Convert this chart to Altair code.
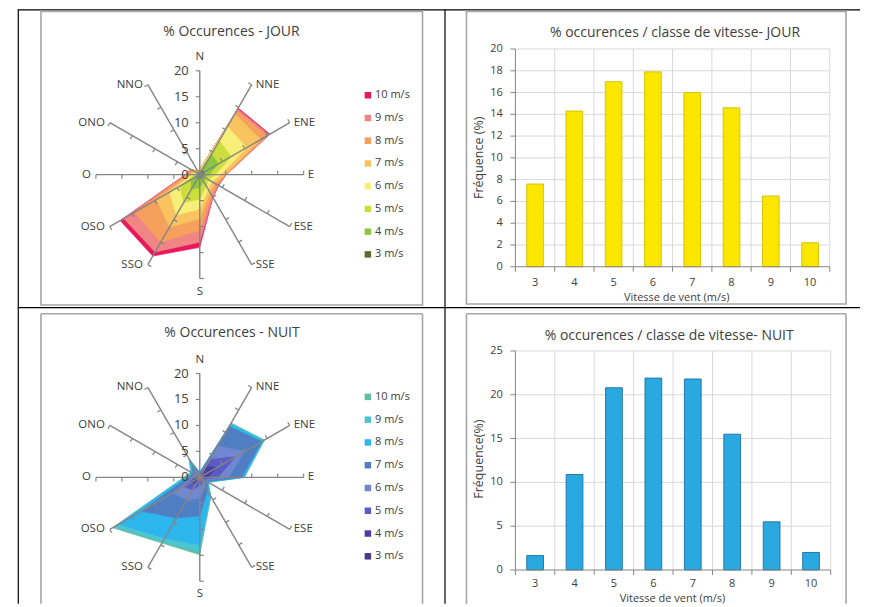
import altair as alt
import pandas as pd

# ---------------- data ----------------
DIRECTIONS = ["N", "NNE", "ENE", "E", "ESE", "SSE", "S", "SSO", "OSO", "O", "ONO", "NNO"]
SPEED_LABELS = ["3 m/s", "4 m/s", "5 m/s", "6 m/s", "7 m/s", "8 m/s", "9 m/s", "10 m/s"]
SPEED_CLASSES = [3, 4, 5, 6, 7, 8, 9, 10]

# cumulative occurrence (%) per direction, JOUR (<= speed class)
JOUR_3 = [0.5, 1.0, 1.0, 0.8, 0.6, 0.7, 0.7, 0.8, 0.6, 0.3, 0.3, 0.2]
JOUR_4 = [0.6, 4.5, 4.2, 1.8, 1.2, 1.5, 2.5, 3.2, 2.0, 0.6, 0.5, 0.3]
JOUR_5 = [0.7, 7.5, 7.0, 3.0, 1.9, 2.5, 4.7, 6.2, 4.4, 1.0, 0.7, 0.4]
JOUR_6 = [0.8, 10.7, 10.4, 4.0, 2.6, 3.2, 6.6, 9.0, 6.7, 1.4, 1.0, 0.5]
JOUR_7 = [0.9, 13.5, 13.5, 4.8, 3.4, 4.0, 8.5, 11.7, 9.6, 1.9, 1.4, 0.6]
JOUR_8 = [1.0, 14.2, 15.0, 5.0, 3.9, 4.7, 10.8, 15.0, 14.5, 2.5, 2.0, 0.8]
JOUR_9 = [1.0, 14.6, 15.4, 5.1, 4.1, 5.0, 13.0, 17.2, 16.9, 2.7, 2.1, 0.8]
JOUR_10 = [1.0, 14.8, 15.6, 5.1, 4.2, 5.1, 14.0, 18.1, 17.7, 2.8, 2.1, 0.8]

# cumulative occurrence (%) per direction, NUIT
NUIT_3 = [0.1, 0.3, 0.3, 0.2, 0.1, 0.1, 0.1, 0.1, 0.1, 0.1, 0.1, 0.1]
NUIT_4 = [0.3, 2.5, 3.8, 1.5, 0.4, 0.5, 0.6, 1.2, 2.0, 0.5, 0.3, 0.4]
NUIT_5 = [0.5, 4.0, 8.0, 3.5, 0.8, 1.2, 1.5, 2.8, 3.5, 1.0, 0.6, 0.9]
NUIT_6 = [0.7, 7.0, 10.0, 5.5, 1.2, 2.0, 4.0, 5.0, 6.0, 1.5, 1.0, 1.8]
NUIT_7 = [0.9, 11.3, 13.8, 8.0, 1.6, 3.0, 7.4, 9.0, 13.0, 2.3, 1.5, 2.8]
NUIT_8 = [1.0, 11.8, 14.1, 8.5, 1.8, 4.0, 13.0, 13.5, 18.0, 2.8, 1.8, 3.8]
NUIT_9 = [1.0, 12.0, 14.3, 8.5, 1.9, 4.2, 14.4, 14.3, 19.0, 3.0, 1.9, 4.1]
NUIT_10 = [1.0, 12.1, 14.4, 8.6, 1.9, 4.3, 14.9, 14.6, 19.4, 3.1, 2.0, 4.2]

JOUR_FREQ = [7.6, 14.3, 17.0, 17.9, 16.0, 14.6, 6.5, 2.2]
NUIT_FREQ = [1.65, 10.9, 20.8, 21.9, 21.8, 15.5, 5.5, 2.0]

RADAR_TICKS = [0, 5, 10, 15, 20]
JOUR_YTICKS = [0, 2, 4, 6, 8, 10, 12, 14, 16, 18, 20]
NUIT_YTICKS = [0, 5, 10, 15, 20, 25]

# ---------------- styles ----------------
JOUR_COLORS = ["#5A6B2E", "#8DC63F", "#CBDE3C", "#F8EF78", "#F9C460", "#F5A05C", "#F08585", "#E9175B"]
NUIT_COLORS = ["#48398C", "#4B3EA2", "#5A5CC4", "#7088D1", "#4F7FC2", "#2DB5EE", "#4CC4D2", "#5FBE9F"]
FONT = "Open Sans"
TEXT = "#404040"
FRAME = "#a6a6a6"
GRID = "#d9d9d9"
AXIS = "#868686"
SPOKE = "#858585"

ONE = pd.DataFrame({"k": [0]})


def vrule(x, y1, y2, color, w):
    return alt.Chart(ONE).mark_rule(color=color, strokeWidth=w).encode(
        x=alt.value(x), y=alt.value(y1), y2=alt.value(y2))


def hrule(y, x1, x2, color, w):
    return alt.Chart(ONE).mark_rule(color=color, strokeWidth=w).encode(
        y=alt.value(y), x=alt.value(x1), x2=alt.value(x2))


def label(text, x, y, size, **kw):
    return alt.Chart(ONE).mark_text(text=text, fontSize=size, color=TEXT, font=FONT, **kw).encode(
        x=alt.value(x), y=alt.value(y))


def frame(x1, x2, y1, y2, H):
    if y2 is not None:
        return [alt.Chart(ONE).mark_rect(fillOpacity=0, stroke=FRAME, strokeWidth=1.6).encode(
            x=alt.value(x1), x2=alt.value(x2), y=alt.value(y1), y2=alt.value(y2))]
    return [hrule(y1, x1, x2, FRAME, 1.6), vrule(x1, y1, H, FRAME, 1.6), vrule(x2, y1, H, FRAME, 1.6)]


def radar_panel(cums, colors, title, W, H, cx, cy, R, frame_y1, frame_y2, title_xy,
                leg_y0, leg_step):
    k = R / 20.0
    XS = alt.Scale(domain=[-20, 20], range=[cx - R, cx + R], nice=False, zero=False)
    YS = alt.Scale(domain=[-20, 20], range=[cy + R, cy - R], nice=False, zero=False)

    def X(f):
        return alt.X(f, type="quantitative", scale=XS, axis=None)

    def Y(f):
        return alt.Y(f, type="quantitative", scale=YS, axis=None)

    layers = []
    # table lines
    layers.append(vrule(10.3, 0, H, "#000000", 1.2))
    layers.append(hrule(0.6, 10.3, W, "#000000", 1.2))
    layers += frame(33, 415, frame_y1, frame_y2, H)
    layers.append(label(title, title_xy[0], title_xy[1], 14, align="center", baseline="middle"))

    rows = []
    for lab, vals in zip(SPEED_LABELS, cums):
        for i, (d, v) in enumerate(zip(DIRECTIONS, vals)):
            rows.append({"speed": lab, "dir": d, "idx": i, "val": v})
    poly = pd.DataFrame(rows)
    for lab, col in list(zip(SPEED_LABELS, colors))[::-1]:
        layers.append(
            alt.Chart(poly).transform_filter(alt.datum.speed == lab).transform_calculate(
                px="datum.val*sin(datum.idx*PI/6)", py="datum.val*cos(datum.idx*PI/6)"
            ).mark_line(interpolate="linear-closed", fill=col, stroke=col, strokeWidth=0.6).encode(
                x=X("px"), y=Y("py"), order=alt.Order("idx:Q"))
        )

    dirs = pd.DataFrame({"dir": DIRECTIONS, "idx": list(range(len(DIRECTIONS)))})
    spokes = alt.Chart(dirs).transform_calculate(
        z="0", ex="20*sin(datum.idx*PI/6)", ey="20*cos(datum.idx*PI/6)")
    layers.append(spokes.mark_rule(color=SPOKE, strokeWidth=1.4).encode(
        x=X("z"), y=Y("z"), x2=alt.X2("ex"), y2=alt.Y2("ey")))

    L = 4.0 / k
    trows = []
    for i, d in enumerate(DIRECTIONS):
        for r in RADAR_TICKS[1:]:
            trows.append({"idx": i, "r": r})
    ticks = pd.DataFrame(trows)
    layers.append(
        alt.Chart(ticks).transform_calculate(
            bx="datum.r*sin(datum.idx*PI/6)", by="datum.r*cos(datum.idx*PI/6)",
            tx=f"datum.r*sin(datum.idx*PI/6) - {L}*cos(datum.idx*PI/6)",
            ty=f"datum.r*cos(datum.idx*PI/6) + {L}*sin(datum.idx*PI/6)",
        ).mark_rule(color=SPOKE, strokeWidth=1.2).encode(
            x=X("bx"), y=Y("by"), x2=alt.X2("tx"), y2=alt.Y2("ty"))
    )

    groups = [
        ("datum.idx >= 1 && datum.idx <= 5", dict(align="left", baseline="middle", dx=4)),
        ("datum.idx >= 7", dict(align="right", baseline="middle", dx=-5)),
        ("datum.idx == 0", dict(align="center", baseline="middle", dy=-14)),
        ("datum.idx == 6", dict(align="center", baseline="middle", dy=13)),
    ]
    for cond, kw in groups:
        layers.append(
            spokes.transform_filter(cond).mark_text(fontSize=11.5, color=TEXT, font=FONT, **kw).encode(
                x=X("ex"), y=Y("ey"), text="dir:N")
        )

    nums = pd.DataFrame({"r": RADAR_TICKS})
    layers.append(
        alt.Chart(nums).transform_calculate(z="0").mark_text(
            fontSize=13, color=TEXT, font=FONT, align="right", baseline="middle", dx=-11).encode(
            x=X("z"), y=Y("r"), text="r:Q")
    )

    leg = pd.DataFrame({"label": SPEED_LABELS[::-1], "rank": list(range(len(SPEED_LABELS)))})
    lsq = (360.3 - cx) / k
    ltx = (367.5 - cx) / k
    legbase = alt.Chart(leg).transform_calculate(
        ly=f"({cy} - ({leg_y0} + datum.rank*{leg_step}))/{k}", lx=f"{lsq}", lt=f"{ltx}")
    for lab, col in zip(SPEED_LABELS, colors):
        layers.append(legbase.transform_filter(alt.datum.label == lab).mark_square(
            size=42, color=col, opacity=1).encode(x=X("lx"), y=Y("ly")))
    layers.append(legbase.mark_text(fontSize=11, color=TEXT, font=FONT, align="left",
                                    baseline="middle").encode(x=X("lt"), y=Y("ly"), text="label:N"))

    return alt.layer(*layers).properties(width=W, height=H)


def bar_panel(freq, yticks, ymax, fill, stroke, title, ytitle, W, H, x0, x1, y0, y1,
              frame_y1, frame_y2, title_xy, xlab_dy, xtitle_xy, ytitle_xy):
    lo = SPEED_CLASSES[0] - 0.5
    hi = SPEED_CLASSES[-1] + 0.5
    XS = alt.Scale(domain=[lo, hi], range=[x0, x1], nice=False, zero=False)
    YS = alt.Scale(domain=[0, ymax], range=[y0, y1], nice=False, zero=False)

    def X(f):
        return alt.X(f, type="quantitative", scale=XS, axis=None)

    def Y(f):
        return alt.Y(f, type="quantitative", scale=YS, axis=None)

    layers = []
    layers.append(vrule(0.5, 0, H, "#000000", 1.2))
    layers.append(hrule(0.6, 0, W, "#000000", 1.2))
    layers += frame(22, 402, frame_y1, frame_y2, H)
    layers.append(label(title, title_xy[0], title_xy[1], 14, align="center", baseline="middle"))

    yt = alt.Chart(pd.DataFrame({"t": yticks})).transform_calculate(xl=f"{lo}", xr=f"{hi}")
    xb = alt.Chart(pd.DataFrame({"s": SPEED_CLASSES})).transform_calculate(
        b="datum.s + 0.5", z="0", top=f"{ymax}")

    layers.append(yt.transform_filter("datum.t > 0").mark_rule(color=GRID, strokeWidth=1).encode(
        x=X("xl"), x2=alt.X2("xr"), y=Y("t")))
    layers.append(xb.mark_rule(color=GRID, strokeWidth=1).encode(
        x=X("b"), y=Y("z"), y2=alt.Y2("top")))

    bars = pd.DataFrame({"s": SPEED_CLASSES, "f": freq})
    layers.append(
        alt.Chart(bars).transform_calculate(l="datum.s - 0.2125", r="datum.s + 0.2125", z="0")
        .mark_rect(fill=fill, stroke=stroke, strokeWidth=0.9)
        .encode(x=X("l"), x2=alt.X2("r"), y=Y("f"), y2=alt.Y2("z"))
    )

    # axis lines and ticks
    layers.append(alt.Chart(ONE).transform_calculate(xl=f"{lo}", z="0", top=f"{ymax}").mark_rule(
        color=AXIS, strokeWidth=1).encode(x=X("xl"), y=Y("z"), y2=alt.Y2("top")))
    layers.append(alt.Chart(ONE).transform_calculate(xl=f"{lo}", xr=f"{hi}", z="0").mark_rule(
        color=AXIS, strokeWidth=1).encode(x=X("xl"), x2=alt.X2("xr"), y=Y("z")))
    layers.append(yt.mark_rule(color=AXIS, strokeWidth=1).encode(
        x=X("xl"), x2=alt.value(x0 - 5), y=Y("t")))
    xbt = alt.Chart(pd.DataFrame({"s": [SPEED_CLASSES[0] - 1] + SPEED_CLASSES})).transform_calculate(
        b="datum.s + 0.5", z="0")
    layers.append(xbt.mark_rule(color=AXIS, strokeWidth=1).encode(
        x=X("b"), y=Y("z"), y2=alt.value(y0 + 5)))

    layers.append(yt.mark_text(fontSize=11, color=TEXT, font=FONT, align="right", baseline="middle",
                               dx=-(x0 - 58.3)).encode(x=X("xl"), y=Y("t"), text="t:Q"))
    layers.append(xb.mark_text(fontSize=11, color=TEXT, font=FONT, align="center", baseline="middle",
                               dy=xlab_dy).encode(x=X("s"), y=Y("z"), text="s:Q"))
    layers.append(label("Vitesse de vent (m/s)", xtitle_xy[0], xtitle_xy[1], 11,
                        align="center", baseline="middle"))
    layers.append(label(ytitle, ytitle_xy[0], ytitle_xy[1], 12.5, align="center",
                        baseline="middle", angle=270))
    return alt.layer(*layers).properties(width=W, height=H)


JOUR_CUMS = [JOUR_3, JOUR_4, JOUR_5, JOUR_6, JOUR_7, JOUR_8, JOUR_9, JOUR_10]
NUIT_CUMS = [NUIT_3, NUIT_4, NUIT_5, NUIT_6, NUIT_7, NUIT_8, NUIT_9, NUIT_10]

TL = radar_panel(JOUR_CUMS, JOUR_COLORS, "% Occurences - JOUR", 437, 298, 192, 165.5, 104,
                 2, 296, (223.7, 22.7), 86, 22.76)
BL = radar_panel(NUIT_CUMS, NUIT_COLORS, "% Occurences - NUIT", 437, 297, 192, 170.6, 104,
                 6.7, None, (224.3, 26.3), 90, 22.8)
TR = bar_panel(JOUR_FREQ, JOUR_YTICKS, 20, "#FBE600", "#D2BF00",
               "% occurences / classe de vitesse- JOUR", "Fréquence (%)",
               416, 298, 71, 385.7, 257.7, 39.7, 2, 295, (230.8, 23.7), 16,
               (232.5, 288.5), (35, 148.6))
BR = bar_panel(NUIT_FREQ, NUIT_YTICKS, 25, "#2AA9E1", "#1C6FA5",
               "% occurences / classe de vitesse- NUIT", "Fréquence(%)",
               416, 297, 71, 386.7, 263.3, 44, 6.7, None, (225, 29), 14.5,
               (228.3, 292.5), (34.3, 152.3))

chart = (
    alt.concat(TL, TR, BL, BR, columns=2, spacing=0, bounds="flush", align="each")
    .properties(padding=0)
    .configure(font=FONT)
    .configure_view(strokeOpacity=0)
)

chart.save("out.html", embed_options={"renderer": "svg", "actions": False})
